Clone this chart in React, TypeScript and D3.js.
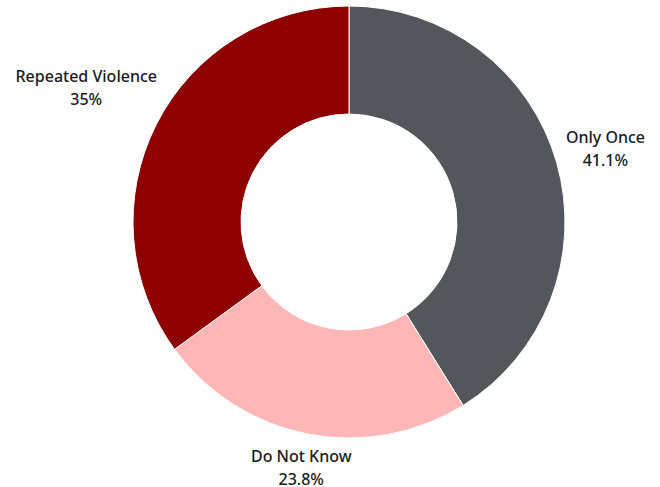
import React from "react";
import * as d3 from "d3";

const categories = ["Only Once", "Do Not Know", "Repeated Violence"];
const values = [41.1, 23.8, 35];
const valueLabels = ["41.1%", "23.8%", "35%"];
const colors = ["#53565b", "#ffb6b6", "#8f0000"];

const W = 660;
const H = 487;
const CX = 349;
const CY = 222;
const R = 216;
const R_IN = 108;
const FONT = "500 16px 'Noto Sans', sans-serif";
const LINE = 23;

function measure(text: string): number {
  const c = document.createElement("canvas").getContext("2d");
  if (!c) return text.length * 8;
  c.font = FONT;
  return c.measureText(text).width;
}

export default function App() {
  const pie = d3.pie<number>().sort(null).value((d) => d);
  const arcs = pie(values);
  const arc = d3.arc<d3.PieArcDatum<number>>().innerRadius(R_IN).outerRadius(R);

  return (
    <svg width={W} height={H} style={{ position: "absolute", left: 0, top: 0 }}>
      <g transform={`translate(${CX},${CY})`}>
        {arcs.map((a, i) => (
          <path key={i} d={arc(a) || ""} fill={colors[i]} stroke="#fff" strokeWidth={1} />
        ))}
        {arcs.map((a, i) => {
          const mid = (a.startAngle + a.endAngle) / 2;
          const s = Math.sin(mid);
          const c = Math.cos(mid);
          const w = Math.max(measure(categories[i]), measure(valueLabels[i]));
          const dist = R + 8 + (w / 2) * Math.abs(s) + 17 * Math.abs(c);
          const x = dist * s;
          const y = -dist * c;
          return (
            <text
              key={"t" + i}
              x={x}
              y={y}
              textAnchor="middle"
              style={{ font: FONT }}
              fill="#1a1a1a"
            >
              <tspan x={x} dy={-6}>{categories[i]}</tspan>
              <tspan x={x} dy={LINE}>{valueLabels[i]}</tspan>
            </text>
          );
        })}
      </g>
    </svg>
  );
}
